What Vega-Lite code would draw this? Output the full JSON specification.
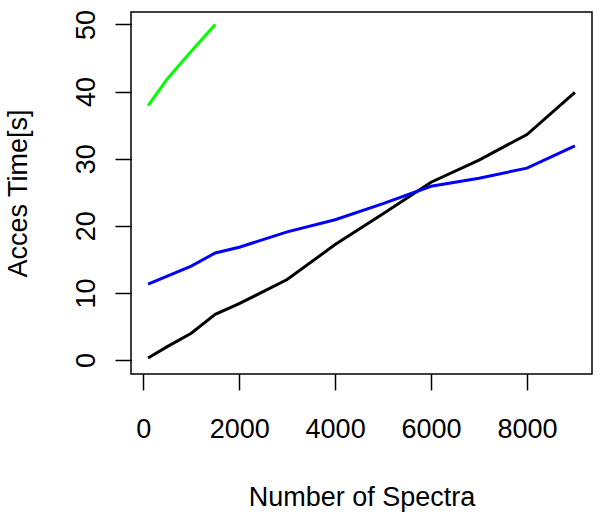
{
  "$schema": "https://vega.github.io/schema/vega-lite/v6.json",
  "autosize": {"type": "none"},
  "padding": {"left": 131, "top": 12, "right": 8, "bottom": 146},
  "width": 461,
  "height": 362,
  "background": "white",
  "config": {
    "view": {"stroke": "black", "strokeWidth": 1.5},
    "font": "Liberation Sans"
  },
  "data": {
    "values": [
      {"n": 100, "t": 0.3, "s": "A"},
      {"n": 500, "t": 2.0, "s": "A"},
      {"n": 1000, "t": 4.0, "s": "A"},
      {"n": 1500, "t": 6.8, "s": "A"},
      {"n": 2000, "t": 8.4, "s": "A"},
      {"n": 3000, "t": 12.0, "s": "A"},
      {"n": 4000, "t": 17.2, "s": "A"},
      {"n": 5000, "t": 21.8, "s": "A"},
      {"n": 6000, "t": 26.5, "s": "A"},
      {"n": 7000, "t": 29.8, "s": "A"},
      {"n": 8000, "t": 33.6, "s": "A"},
      {"n": 9000, "t": 39.9, "s": "A"},
      {"n": 100, "t": 11.3, "s": "B"},
      {"n": 500, "t": 12.5, "s": "B"},
      {"n": 1000, "t": 14.0, "s": "B"},
      {"n": 1500, "t": 15.95, "s": "B"},
      {"n": 2000, "t": 16.8, "s": "B"},
      {"n": 3000, "t": 19.1, "s": "B"},
      {"n": 4000, "t": 20.9, "s": "B"},
      {"n": 5000, "t": 23.3, "s": "B"},
      {"n": 6000, "t": 25.9, "s": "B"},
      {"n": 7000, "t": 27.1, "s": "B"},
      {"n": 8000, "t": 28.6, "s": "B"},
      {"n": 9000, "t": 31.9, "s": "B"},
      {"n": 100, "t": 37.9, "s": "C"},
      {"n": 500, "t": 41.9, "s": "C"},
      {"n": 1000, "t": 46.0, "s": "C"},
      {"n": 1500, "t": 50.0, "s": "C"}
    ]
  },
  "mark": {"type": "line", "strokeWidth": 3, "clip": true},
  "encoding": {
    "x": {
      "field": "n", "type": "quantitative",
      "scale": {"domain": [-256, 9356], "nice": false, "zero": false},
      "axis": {
        "title": "Number of Spectra",
        "values": [0, 2000, 4000, 6000, 8000],
        "format": "d",
        "grid": false, "domain": false,
        "tickColor": "black", "tickSize": 16, "tickWidth": 1.5,
        "labelColor": "black", "labelFontSize": 27, "labelPadding": 26,
        "labelFont": "Liberation Sans",
        "titleColor": "black", "titleFontSize": 27, "titleFontWeight": "normal",
        "titleFont": "Liberation Sans", "titlePadding": 42
      }
    },
    "y": {
      "field": "t", "type": "quantitative",
      "scale": {"domain": [-2.08, 51.86], "nice": false, "zero": false},
      "axis": {
        "title": "Acces Time[s]",
        "values": [0, 10, 20, 30, 40, 50],
        "grid": false, "domain": false,
        "tickColor": "black", "tickSize": 16, "tickWidth": 1.5,
        "labelColor": "black", "labelFontSize": 27, "labelPadding": 15,
        "labelAngle": -90, "labelAlign": "center", "labelBaseline": "bottom",
        "labelFont": "Liberation Sans",
        "titleColor": "black", "titleFontSize": 27, "titleFontWeight": "normal",
        "titleFont": "Liberation Sans", "titlePadding": 40
      }
    },
    "color": {
      "field": "s", "type": "nominal",
      "scale": {"domain": ["A", "B", "C"], "range": ["#000000", "#0000FF", "#00FF00"]},
      "legend": null
    }
  }
}
